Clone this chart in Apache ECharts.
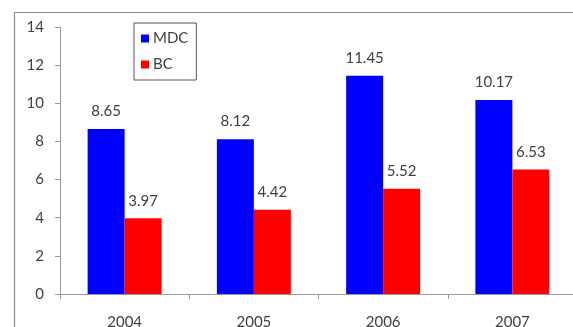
<!DOCTYPE html>
<html>
<head>
<meta charset="utf-8">
<script src="https://cdn.jsdelivr.net/npm/echarts@6/dist/echarts.min.js"></script>
<style>
  html, body { margin: 0; padding: 0; background: #fff; }
  #chart { width: 573px; height: 327px; }
</style>
</head>
<body>
<div id="chart"></div>
<script>
// Yearly figures for the two series
const years = ['2004', '2005', '2006', '2007'];
const mdcValues = [8.65, 8.12, 11.45, 10.17];
const bcValues = [3.97, 4.42, 5.52, 6.53];
const seriesNames = ['MDC', 'BC'];
const yTicks = { min: 0, max: 14, interval: 2 };

const FONT = 'Lato, "Open Sans", sans-serif';
const TEXT = '#404040';
const AXIS = '#9a9a9a';

const chart = echarts.init(document.getElementById('chart'), null, { renderer: 'canvas' });

const labelStyle = {
  show: true,
  position: 'top',
  distance: 10,
  color: TEXT,
  fontFamily: FONT,
  fontSize: 15
};

chart.setOption({
  animation: false,
  textStyle: { fontFamily: FONT },
  graphic: [{
    type: 'rect',
    left: 12,
    top: 10,
    shape: { width: 600, height: 340 },
    style: { fill: 'none', stroke: '#8a8a8a', lineWidth: 1.2 },
    silent: true
  }],
  // plot area runs slightly past the right edge of the frame
  grid: { left: 60, top: 27, width: 517, bottom: 33, containLabel: false, outerBoundsMode: 'none' },
  legend: {
    orient: 'vertical',
    left: 134,
    top: 23,
    width: 60,
    itemWidth: 8,
    itemHeight: 8,
    itemGap: 11,
    icon: 'rect',
    padding: [8, 8, 8, 7],
    borderColor: '#555',
    borderWidth: 1,
    backgroundColor: '#fff',
    textStyle: { fontFamily: FONT, fontSize: 15, color: TEXT, padding: [0, 0, 0, -1] },
    data: seriesNames
  },
  xAxis: {
    type: 'category',
    data: years,
    axisLine: { lineStyle: { color: AXIS, width: 1 } },
    axisTick: { show: true, length: 5, lineStyle: { color: AXIS } },
    axisLabel: { color: TEXT, fontFamily: FONT, fontSize: 15, margin: 21 }
  },
  yAxis: {
    type: 'value',
    min: yTicks.min,
    max: yTicks.max,
    interval: yTicks.interval,
    axisLine: { show: true, lineStyle: { color: AXIS, width: 1 } },
    axisTick: { show: true, length: 5, lineStyle: { color: AXIS } },
    splitLine: { show: false },
    axisLabel: { color: TEXT, fontFamily: FONT, fontSize: 15, margin: 16 }
  },
  series: [
    {
      name: seriesNames[0],
      type: 'bar',
      data: mdcValues,
      barWidth: 37,
      barGap: '0%',
      itemStyle: { color: '#0000ff' },
      label: labelStyle
    },
    {
      name: seriesNames[1],
      type: 'bar',
      data: bcValues,
      barWidth: 37,
      barGap: '0%',
      itemStyle: { color: '#ff0000' },
      label: labelStyle
    }
  ]
});
</script>
</body>
</html>
